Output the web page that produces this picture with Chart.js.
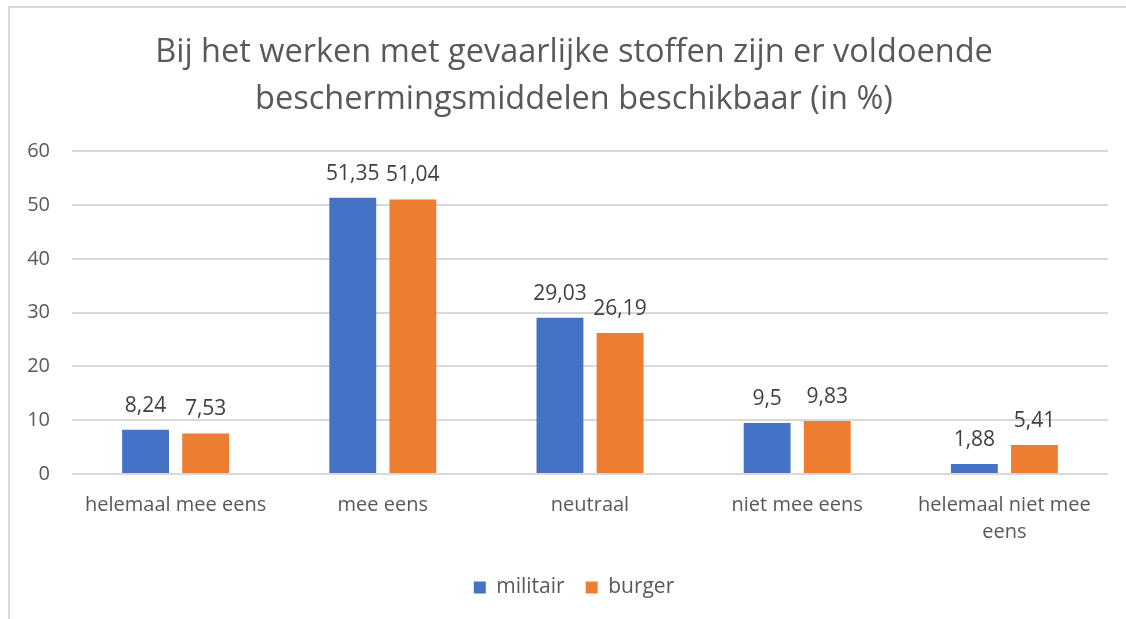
<!DOCTYPE html>
<html>
<head>
    <meta charset="UTF-8">
    <script src="https://cdn.jsdelivr.net/npm/chart.js@4.4.0/dist/chart.umd.min.js"></script>
    <style>
        body { margin: 0; background: #fff; }
        .frame {
            position: absolute;
            left: 8px;
            top: 6px;
            width: 1118px;
            height: 613px;
            border-top: 2px solid #d9d9d9;
            border-left: 2px solid #d9d9d9;
            box-sizing: border-box;
        }
        .chart-container {
            position: absolute;
            left: 0;
            top: 0;
            width: 1126px;
            height: 619px;
        }
    </style>
    <title>Beschermingsmiddelen</title>
</head>
<body>
    <div class="frame"></div>
    <div class="chart-container">
        <canvas id="barChart"></canvas>
    </div>

    <script>
        const categories = [
            'helemaal mee eens',
            'mee eens',
            'neutraal',
            'niet mee eens',
            ['helemaal niet mee', 'eens']
        ];
        const militair = [8.24, 51.35, 29.03, 9.5, 1.88];
        const burger = [7.53, 51.04, 26.19, 9.83, 5.41];
        const yTicks = [0, 10, 20, 30, 40, 50, 60];

        const textColor = '#595959';
        const fontFamily = "'Open Sans', sans-serif";

        // draws the value above every bar, Excel style with decimal comma
        const valueLabels = {
            id: 'valueLabels',
            afterDatasetsDraw(chart) {
                const ctx = chart.ctx;
                ctx.save();
                ctx.fillStyle = '#404040';
                ctx.font = '21px ' + fontFamily;
                ctx.textAlign = 'center';
                ctx.textBaseline = 'middle';
                chart.data.datasets.forEach(function (ds, i) {
                    const meta = chart.getDatasetMeta(i);
                    meta.data.forEach(function (bar, j) {
                        const txt = String(ds.data[j]).replace('.', ',');
                        ctx.fillText(txt, bar.x, bar.y - 24);
                    });
                });
                ctx.restore();
            }
        };

        const ctx1 = document.getElementById('barChart').getContext('2d');
        new Chart(ctx1, {
            type: 'bar',
            data: {
                labels: categories,
                datasets: [
                    {
                        label: 'militair',
                        data: militair,
                        backgroundColor: '#4472C4',
                        barPercentage: 0.78,
                        categoryPercentage: 0.58
                    },
                    {
                        label: 'burger',
                        data: burger,
                        backgroundColor: '#ED7D31',
                        barPercentage: 0.78,
                        categoryPercentage: 0.58
                    }
                ]
            },
            options: {
                responsive: true,
                maintainAspectRatio: false,
                animation: false,
                layout: {
                    padding: { left: 22, right: 0, top: 14, bottom: 11 }
                },
                plugins: {
                    title: {
                        display: true,
                        text: ['Bij het werken met gevaarlijke stoffen zijn er voldoende',
                               'beschermingsmiddelen beschikbaar (in %)'],
                        color: textColor,
                        font: { family: fontFamily, size: 32.5, weight: 'normal', lineHeight: 1.45 },
                        padding: { top: 15, bottom: 28 }
                    },
                    legend: {
                        position: 'bottom',
                        labels: {
                            color: textColor,
                            boxWidth: 12,
                            boxHeight: 12,
                            padding: 21,
                            font: { family: fontFamily, size: 21 }
                        }
                    },
                    tooltip: { enabled: false }
                },
                scales: {
                    x: {
                        grid: { display: false },
                        border: { display: false },
                        ticks: {
                            color: textColor,
                            padding: 10,
                            maxRotation: 0,
                            font: { family: fontFamily, size: 20, lineHeight: 1.35 }
                        }
                    },
                    y: {
                        min: 0,
                        max: 60,
                        afterFit(scale) { scale.width = 50; },
                        afterBuildTicks(scale) {
                            scale.ticks = yTicks.map(v => ({ value: v }));
                        },
                        grid: { color: '#d9d9d9', lineWidth: 2, drawTicks: false },
                        border: { display: false },
                        ticks: {
                            color: textColor,
                            padding: 22,
                            font: { family: fontFamily, size: 20 }
                        }
                    },
                    // empty spacer on the right so the title sits where Excel puts it
                    yRight: {
                        position: 'right',
                        afterFit(scale) { scale.width = 18; },
                        grid: { display: false },
                        border: { display: false },
                        ticks: { display: false }
                    }
                }
            },
            plugins: [valueLabels]
        });
    </script>
</body>
</html>
